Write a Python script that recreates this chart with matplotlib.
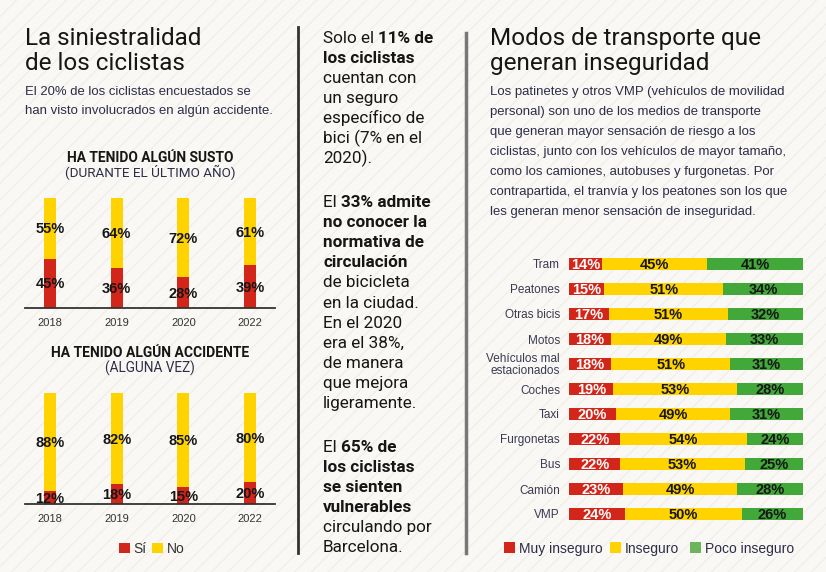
import matplotlib
matplotlib.use('Agg')
import matplotlib.pyplot as plt
from matplotlib import font_manager
from matplotlib.transforms import offset_copy
from matplotlib.patches import Rectangle
from matplotlib.lines import Line2D

W, H, DPI = 826, 572, 100

# ---------------- data ----------------
years = ['2018', '2019', '2020', '2022']
susto_si = [45, 36, 28, 39]
susto_no = [55, 64, 72, 61]
accidente_si = [12, 18, 15, 20]
accidente_no = [88, 82, 85, 80]

modos = ['Tram', 'Peatones', 'Otras bicis', 'Motos', 'Vehículos mal\nestacionados',
         'Coches', 'Taxi', 'Furgonetas', 'Bus', 'Camión', 'VMP']
muy_inseguro = [14, 15, 17, 18, 18, 19, 20, 22, 22, 23, 24]
inseguro = [45, 51, 51, 49, 51, 53, 49, 54, 53, 49, 50]
poco_inseguro = [41, 34, 32, 33, 31, 28, 31, 24, 25, 28, 26]

left_title = ['La siniestralidad', 'de los ciclistas']
left_sub = ['El 20% de los ciclistas encuestados se', 'han visto involucrados en algún accidente.']
chart1_title = ['HA TENIDO ALGÚN SUSTO', '(DURANTE EL ÚLTIMO AÑO)']
chart2_title = ['HA TENIDO ALGÚN ACCIDENTE', '(ALGUNA VEZ)']
left_legend = ['Sí', 'No']

right_title = ['Modos de transporte que', 'generan inseguridad']
right_par = ['Los patinetes y otros VMP (vehículos de movilidad',
             'personal) son uno de los medios de transporte',
             'que generan mayor sensación de riesgo a los',
             'ciclistas, junto con los vehículos de mayor tamaño,',
             'como los camiones, autobuses y furgonetas. Por',
             'contrapartida, el tranvía y los peatones son los que',
             'les generan menor sensación de inseguridad.']
right_legend = ['Muy inseguro', 'Inseguro', 'Poco inseguro']

N, B = 'normal', 'bold'
middle_paragraphs = [
    [[('Solo el ', N), ('11% de', B)], [('los ciclistas', B)], [('cuentan con', N)],
     [('un seguro', N)], [('específico de', N)], [('bici (7% en el', N)], [('2020).', N)]],
    [[('El ', N), ('33% admite', B)], [('no conocer la', B)], [('normativa de', B)],
     [('circulación', B)], [('de bicicleta', N)], [('en la ciudad.', N)], [('En el 2020', N)],
     [('era el 38%,', N)], [('de manera', N)], [('que mejora', N)], [('ligeramente.', N)]],
    [[('El ', N), ('65% de', B)], [('los ciclistas', B)], [('se sienten', B)],
     [('vulnerables', B)], [('circulando por', N)], [('Barcelona.', N)]],
]

# ---------------- style ----------------
BG = '#f9f8f4'
STRIPE = '#efede7'
RED = '#d3261a'
YELLOW = '#ffd300'
GREEN = '#43a83a'
GREEN_LEG = '#6db55c'
INK = '#161616'
NAVY = '#2d2d48'
GREY = '#333333'

names = {f.name for f in font_manager.fontManager.ttflist}
NARROW = 'Liberation Sans Narrow' if 'Liberation Sans Narrow' in names else 'Roboto'
SANS = 'Liberation Sans' if 'Liberation Sans' in names else 'DejaVu Sans'
TITLE = 'Roboto' if 'Roboto' in names else SANS

plt.rcParams['hatch.linewidth'] = 0.8
fig = plt.figure(figsize=(W / DPI, H / DPI), dpi=DPI)
fig.patch.set_facecolor(BG)
renderer = fig.canvas.get_renderer()

bg = fig.add_axes([0, 0, 1, 1], zorder=-10)
bg.set_axis_off()
bg.add_patch(Rectangle((0, 0), 1, 1, transform=bg.transAxes, facecolor=BG,
                       edgecolor=STRIPE, hatch='//', linewidth=0))


def put(x, y, s, size, family, weight='normal', color=INK, ha='left', va='baseline', **kw):
    return fig.text(x / W, 1 - y / H, s, fontsize=size, family=family, fontweight=weight,
                    color=color, ha=ha, va=va, **kw)


def bbox_w(s, size, family, weight='normal'):
    t = fig.text(0, 0, s, fontsize=size, family=family, fontweight=weight)
    w = t.get_window_extent(renderer).width
    t.remove()
    return w


def adv_w(s, size, family, weight='normal'):
    return bbox_w(s + '|', size, family, weight) - bbox_w('|', size, family, weight)


def fit(s, target, family, weight='normal', base=10.0):
    return base * target / bbox_w(s, base, family, weight)


def square(x, y, w, h, color):
    fig.add_artist(Rectangle((x / W, 1 - (y + h) / H), w / W, h / H,
                             transform=fig.transFigure, facecolor=color, edgecolor='none'))


def vline(x, y0, y1, color, lw):
    fig.add_artist(Line2D([x / W, x / W], [1 - y0 / H, 1 - y1 / H], color=color, lw=lw,
                          transform=fig.transFigure))


# ---------------- left column ----------------
s = fit(left_title[0], 177, TITLE)
for i, line in enumerate(left_title):
    put(25, 45 + 25 * i, line, s, TITLE, color=INK)

s = fit(left_sub[0], 226, SANS)
for i, line in enumerate(left_sub):
    put(25, 95 + 19 * i, line, s, SANS, color=NAVY)


def stack_chart(top, bottom, si, no, title, title_y):
    ax = fig.add_axes([25 / W, 1 - bottom / H, 250 / W, (bottom - top) / H])
    ax.set_facecolor('none')
    x = list(range(len(years)))
    ax.bar(x, si, width=0.18, color=RED, zorder=2)
    ax.bar(x, no, bottom=si, width=0.18, color=YELLOW, zorder=2)
    ax.set_xlim(-0.375, 3.375)
    ax.set_ylim(0, 100)
    for sp in ['top', 'left', 'right']:
        ax.spines[sp].set_visible(False)
    ax.spines['bottom'].set_color('#333333')
    ax.spines['bottom'].set_linewidth(1.3)
    ax.set_xticks([])
    ax.set_yticks([])
    lab_tr = offset_copy(ax.transData, fig=fig, x=0, y=-5.2, units='dots')
    yr_tr = offset_copy(ax.transData, fig=fig, x=0, y=-17.5, units='dots')
    for i in x:
        ax.text(i, si[i] / 2, f'{si[i]}%', transform=lab_tr, ha='center', va='baseline',
                fontsize=10.5, family=SANS, fontweight='bold', color=INK, zorder=3)
        ax.text(i, si[i] + no[i] / 2, f'{no[i]}%', transform=lab_tr, ha='center', va='baseline',
                fontsize=10.5, family=SANS, fontweight='bold', color=INK, zorder=3)
        ax.text(i, 0, years[i], transform=yr_tr, ha='center', va='baseline',
                fontsize=8, family=SANS, color=GREY)
    ts = fit(title[0], 166 if 'SUSTO' in title[0] else 202, NARROW, 'bold')
    ts = min(ts, 10.0)
    put(150, title_y, title[0], ts, NARROW, 'bold', color=INK, ha='center')
    put(150, title_y + 15.5, title[1], ts * 0.98, NARROW, color=NAVY, ha='center')
    return ax


stack_chart(198, 308, susto_si, susto_no, chart1_title, 162)
stack_chart(393, 504, accidente_si, accidente_no, chart2_title, 357)

square(119, 543, 11, 10, RED)
put(133, 553, left_legend[0], 10, SANS, color=GREY)
square(152, 543, 11, 10, YELLOW)
put(167, 553, left_legend[1], 10, SANS, color=GREY)

vline(298, 27, 553, '#333333', 2)
vline(466, 33, 553, '#777777', 2.5)

# ---------------- middle column ----------------
ms = fit('cuentan con', 94, NARROW)
starts = [43, 207, 452]
for start, para in zip(starts, middle_paragraphs):
    for j, parts in enumerate(para):
        cur = 323
        y = start + 20.1 * j
        for txt, wgt in parts:
            put(cur, y, txt, ms, NARROW, wgt, color=INK)
            cur += adv_w(txt, ms, NARROW, wgt)

# ---------------- right column ----------------
s = fit(right_title[0], 271, TITLE)
for i, line in enumerate(right_title):
    put(490, 45 + 25 * i, line, s, TITLE, color=INK)

s = fit(right_par[0], 295, SANS)
for i, line in enumerate(right_par):
    put(490, 95 + 20 * i, line, s, SANS, color=NAVY)

ax = fig.add_axes([569 / W, 1 - 526.5 / H, 234 / W, 275 / H])
ax.set_facecolor('none')
y = list(range(len(modos)))
left2 = [a + b for a, b in zip(muy_inseguro, inseguro)]
ax.barh(y, muy_inseguro, height=0.48, color=RED)
ax.barh(y, inseguro, left=muy_inseguro, height=0.48, color=YELLOW)
ax.barh(y, poco_inseguro, left=left2, height=0.48, color=GREEN)
ax.set_xlim(0, 100)
ax.set_ylim(len(modos) - 0.5, -0.5)
for sp in ax.spines.values():
    sp.set_visible(False)
ax.set_xticks([])
ax.set_yticks(y, modos)
ax.tick_params(axis='y', length=0, pad=6.5, labelsize=8.5, labelcolor='#3a3a52')
for t in ax.get_yticklabels():
    t.set_family(SANS)
    t.set_linespacing(0.95)
lab_tr = offset_copy(ax.transData, fig=fig, x=0, y=-5.2, units='dots')
for i in y:
    a, b, c = muy_inseguro[i], inseguro[i], poco_inseguro[i]
    ax.text(a / 2, i, f'{a}%', transform=lab_tr, ha='center', va='baseline', fontsize=10.5,
            family=SANS, fontweight='bold', color='white')
    ax.text(a + b / 2, i, f'{b}%', transform=lab_tr, ha='center', va='baseline', fontsize=10.5,
            family=SANS, fontweight='bold', color=INK)
    ax.text(a + b + c / 2, i, f'{c}%', transform=lab_tr, ha='center', va='baseline', fontsize=10.5,
            family=SANS, fontweight='bold', color=INK)

leg_x = [504, 610, 690]
leg_c = [RED, YELLOW, GREEN_LEG]
for lx, lc, lt in zip(leg_x, leg_c, right_legend):
    square(lx, 542, 11, 11, lc)
    put(lx + 15, 553, lt, 10, SANS, color=NAVY)

fig.savefig('out.png', dpi=DPI, facecolor=BG)
